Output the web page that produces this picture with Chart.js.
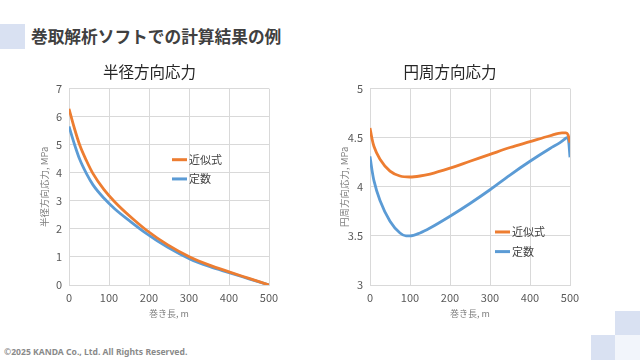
<!DOCTYPE html>
<html><head><meta charset="utf-8">
<script src="https://cdn.jsdelivr.net/npm/chart.js@4/dist/chart.umd.min.js"></script>
<style>
html,body{margin:0;padding:0;background:#fff;}
body{width:640px;height:360px;position:relative;overflow:hidden;font-family:'Noto Sans CJK JP',sans-serif;}
.sq{position:absolute;width:25px;height:25px;}
#title{position:absolute;left:31px;top:25px;font-size:16.7px;font-weight:bold;color:#404040;line-height:22px;white-space:nowrap;}
#foot{position:absolute;left:4px;top:346px;font-size:8.6px;color:#8a8a8a;font-family:'Noto Sans',sans-serif;font-weight:bold;white-space:nowrap;}
.cv{position:absolute;top:55px;}
</style></head><body>
<div class="sq" style="left:0;top:24px;background:#d9e1f2"></div>
<div class="sq" style="left:615px;top:311px;background:#d9e1f2"></div>
<div class="sq" style="left:591px;top:335px;width:24px;background:#d9e1f2"></div>
<div class="sq" style="left:615px;top:335px;background:#f2f5fb"></div>
<div id="title">巻取解析ソフトでの計算結果の例</div>
<div id="foot">©2025 KANDA Co., Ltd. All Rights Reserved.</div>
<canvas id="c1" class="cv" style="left:30px" width="260" height="270"></canvas>
<canvas id="c2" class="cv" style="left:330px" width="260" height="270"></canvas>
<script>
// ---- data ----
const seriesNames = ['近似式', '定数'];
const xTitle = '巻き長, m';

// 半径方向応力
const radialTitle = '半径方向応力';
const radialYTitle = '半径方向応力, MPa';
const radialX      = [0,    14,   27,   44,   60,   87,   114,  153,  193,  247,  302,  351,  400,  450,  500];
const radialApprox = [6.28, 5.56, 4.98, 4.42, 3.97, 3.41, 2.97, 2.44, 1.96, 1.43, 1.00, 0.71, 0.47, 0.235, 0];
const radialConst  = [5.65, 5.00, 4.47, 3.96, 3.57, 3.10, 2.72, 2.27, 1.84, 1.34, 0.93, 0.66, 0.44, 0.22, 0];
const radialYTicks = ['0','1','2','3','4','5','6','7'];

// 円周方向応力
const hoopTitle = '円周方向応力';
const hoopYTitle = '円周方向応力, MPa';
const hoopApproxX = [0,    5,    10,   25,   50,   75,   100,  125,  150,  200,  250,  300,  350,  400,  450,  480,  490,  495,  500];
const hoopApprox  = [4.60, 4.49, 4.41, 4.28, 4.16, 4.11, 4.10, 4.11, 4.13, 4.19, 4.26, 4.33, 4.40, 4.46, 4.52, 4.55, 4.55, 4.53, 4.45];
const hoopConstX  = [0,    5,    10,   25,   50,   75,   90,   100,  125,  150,  200,  250,  300,  350,  400,  450,  475,  485,  492,  496,  500];
const hoopConst   = [4.31, 4.17, 4.06, 3.86, 3.65, 3.53, 3.50, 3.50, 3.53, 3.58, 3.70, 3.83, 3.97, 4.12, 4.26, 4.39, 4.45, 4.48, 4.50, 4.48, 4.30];
const hoopYTicks = ['3','3.5','4','4.5','5'];

const colors = ['#ED7D31', '#5B9BD5'];
const FONT = "'Noto Sans CJK JP', sans-serif";

const legendPlugin = {
  id: 'inLegend',
  afterDatasetsDraw(chart, args, opts) {
    const {ctx, chartArea: a} = chart;
    ctx.save();
    ctx.font = '11px ' + FONT;
    ctx.textBaseline = 'middle';
    chart.data.datasets.forEach((ds, i) => {
      const x = a.left + opts.x * (a.right - a.left);
      const y = a.top + opts.y[i] * (a.bottom - a.top);
      ctx.strokeStyle = ds.borderColor;
      ctx.lineWidth = 3;
      ctx.beginPath(); ctx.moveTo(x, y); ctx.lineTo(x + 15, y); ctx.stroke();
      ctx.fillStyle = '#404040';
      ctx.fillText(ds.label, x + 17, y);
    });
    ctx.restore();
  }
};

function makeChart(id, title, yTitle, xsList, ys, yMin, yMax, yStep, yTicks, yWidth, legendPos) {
  const datasets = ys.map((arr, i) => ({
    label: seriesNames[i],
    data: xsList[i].map((x, j) => ({x: x, y: arr[j]})),
    borderColor: colors[i],
    backgroundColor: colors[i],
    borderWidth: 2.8,
    pointRadius: 0,
    cubicInterpolationMode: 'monotone',
    fill: false
  }));
  return new Chart(document.getElementById(id), {
    type: 'line',
    data: {datasets},
    plugins: [legendPlugin],
    options: {
      responsive: false,
      animation: false,
      devicePixelRatio: 1,
      layout: {padding: {left: 0, right: 260 - 200 - yWidth, top: 0, bottom: 0}},
      plugins: {
        legend: {display: false},
        tooltip: {enabled: false},
        title: {display: true, text: title, color: '#262626',
                font: {family: FONT, size: 15.5, weight: 'normal'},
                padding: {top: 8, bottom: 7}},
        inLegend: legendPos
      },
      scales: {
        x: {
          type: 'linear', min: 0, max: 500,
          ticks: {stepSize: 100, color: '#595959', font: {family: FONT, size: 11}, padding: 6, maxRotation: 0},
          grid: {color: '#d9d9d9', drawTicks: false},
          border: {color: '#d9d9d9'},
          title: {display: true, text: xTitle, color: '#7f7f7f', font: {family: FONT, size: 9}, padding: {top: 0, bottom: 6}},
          afterFit(s) { s.height = 40; }
        },
        y: {
          min: yMin, max: yMax,
          ticks: {stepSize: yStep, color: '#595959', font: {family: FONT, size: 11}, padding: 7,
                  callback: (v) => { const i = Math.round((v - yMin) / yStep); return yTicks[i]; }},
          grid: {color: '#d9d9d9', drawTicks: false},
          border: {color: '#d9d9d9'},
          title: {display: true, text: yTitle, color: '#7f7f7f', font: {family: FONT, size: 9.5}, padding: {top: 9, bottom: 0}},
          afterFit(s) { s.width = yWidth; }
        }
      }
    }
  });
}

makeChart('c1', radialTitle, radialYTitle, [radialX, radialX], [radialApprox, radialConst], 0, 7, 1, radialYTicks, 39, {x: 0.515, y: [0.362, 0.46]});
makeChart('c2', hoopTitle, hoopYTitle, [hoopApproxX, hoopConstX], [hoopApprox, hoopConst], 3, 5, 0.5, hoopYTicks, 40, {x: 0.625, y: [0.73, 0.83]});
</script>
</body></html>
